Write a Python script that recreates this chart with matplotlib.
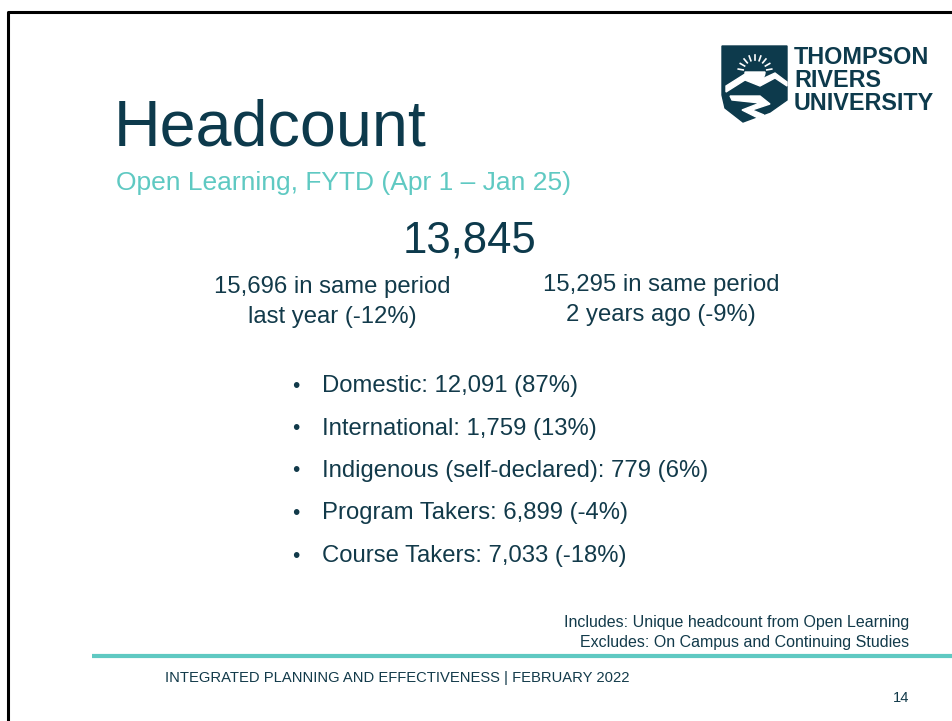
import math
import matplotlib.pyplot as plt
from matplotlib.patches import Polygon, Wedge

plt.rcParams['font.family'] = ['Liberation Sans', 'DejaVu Sans']

title = "Headcount"
subtitle = "Open Learning, FYTD (Apr 1 \u2013 Jan 25)"
total = "13,845"
comparisons = ["15,696 in same period\nlast year (-12%)",
               "15,295 in same period\n2 years ago (-9%)"]
bullet_labels = ["Domestic", "International", "Indigenous (self-declared)",
                 "Program Takers", "Course Takers"]
bullet_values = ["12,091 (87%)", "1,759 (13%)", "779 (6%)",
                 "6,899 (-4%)", "7,033 (-18%)"]
notes = ["Includes: Unique headcount from Open Learning",
         "Excludes: On Campus and Continuing Studies"]
footer = "INTEGRATED PLANNING AND EFFECTIVENESS | FEBRUARY 2022"
page = "14"

dark = "#0d3a4c"
text_c = "#123a4a"
teal = "#5fc9c2"

fig = plt.figure(figsize=(9.52, 7.21), dpi=100)
ax = fig.add_axes([0, 0, 1, 1])
ax.set_xlim(0, 952)
ax.set_ylim(721, 0)
ax.axis("off")

# slide border
ax.plot([8, 8, 952], [721, 12, 12], color="black", lw=2.2, solid_capstyle="butt")

# logo shield
shield = Polygon([[722, 46], [787, 46], [787, 100], [770, 112], [743, 122],
                  [725, 108], [722, 95]], closed=True, color=dark)
ax.add_patch(shield)
ax.add_patch(Wedge((755, 72), 10, 0, 180, color="white"))
for k in range(9):
    a = math.radians(10 + k * 20)
    ax.plot([755 + 12 * math.cos(a), 755 + 17 * math.cos(a)],
            [72 - 12 * math.sin(a), 72 - 17 * math.sin(a)], color="white", lw=1.2)
ax.add_patch(Polygon([[726, 86], [745, 74], [760, 80], [775, 73], [787, 82],
                      [787, 86], [775, 78], [760, 86], [745, 80], [726, 92]],
                     closed=True, color="white"))
ax.add_patch(Polygon([[730, 96], [760, 96], [770, 104], [752, 110], [764, 115],
                      [758, 118], [742, 110], [760, 103], [732, 100]],
                     closed=True, color="white"))
for i, w in enumerate(["THOMPSON", "RIVERS", "UNIVERSITY"]):
    ax.text(794, 58 + i * 22.5, w, fontsize=16.8, fontweight="heavy", color=dark,
            va="center", ha="left")

ax.text(114, 128, title, fontsize=46.5, color=dark, va="center", ha="left")
ax.text(116, 183, subtitle, fontsize=19, color=teal, va="center", ha="left")
ax.text(470, 241, total, fontsize=31.5, color=dark, va="center", ha="center")
ax.text(332, 302, comparisons[0], fontsize=17.2, color=text_c, va="center",
        ha="center", linespacing=1.45)
ax.text(661, 300, comparisons[1], fontsize=17.2, color=text_c, va="center",
        ha="center", linespacing=1.45)

for i, (lab, val) in enumerate(zip(bullet_labels, bullet_values)):
    y = 386 + i * 42.5
    ax.text(292, y, "\u2022", fontsize=15, color=text_c, va="center", ha="left")
    ax.text(322, y, f"{lab}: {val}", fontsize=17.2, color=text_c, va="center", ha="left")

ax.text(909, 623, notes[0], fontsize=11.5, color=text_c, va="center", ha="right")
ax.text(909, 643, notes[1], fontsize=11.5, color=text_c, va="center", ha="right")
ax.plot([92, 952], [656, 656], color=teal, lw=3, solid_capstyle="butt")
ax.text(165, 678, footer, fontsize=10.6, color=text_c, va="center", ha="left")
ax.text(909, 698, page, fontsize=10.6, color=text_c, va="center", ha="right")

fig.savefig("out.png", dpi=100)
